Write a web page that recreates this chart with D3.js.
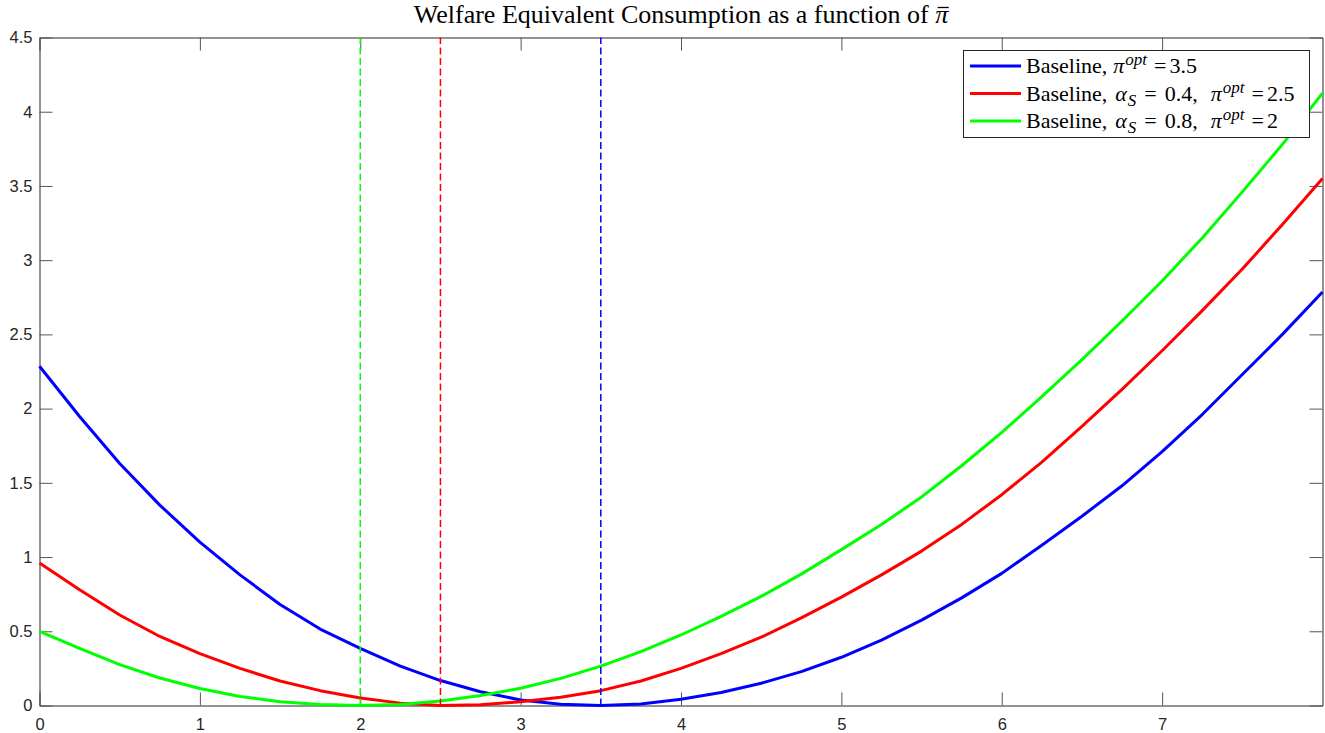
<!DOCTYPE html>
<html>
<head>
<meta charset="utf-8">
<script src="https://cdn.jsdelivr.net/npm/d3@7"></script>
<style>
  body { margin: 0; background: #fff; }
  svg { display: block; }
</style>
</head>
<body>
<svg id="chart" width="1325" height="733"></svg>
<script>
// inflation target grid (pi bar)
const piBar = [0, 0.25, 0.5, 0.75, 1, 1.25, 1.5, 1.75, 2, 2.25, 2.5, 2.75, 3, 3.25, 3.5, 3.75,
               4, 4.25, 4.5, 4.75, 5, 5.25, 5.5, 5.75, 6, 6.25, 6.5, 6.75, 7, 7.25, 7.5, 7.75, 8];

// welfare equivalent consumption
const baseline = [2.285, 1.947, 1.63, 1.35, 1.10, 0.88, 0.68, 0.515, 0.385, 0.265, 0.168, 0.093, 0.037, 0.008, 0.0, 0.01,
                  0.042, 0.088, 0.15, 0.228, 0.325, 0.44, 0.575, 0.725, 0.89, 1.08, 1.275, 1.48, 1.71, 1.96, 2.23, 2.50, 2.785];
const alpha04  = [0.96, 0.78, 0.61, 0.465, 0.35, 0.25, 0.165, 0.10, 0.05, 0.016, 0.0, 0.005, 0.025, 0.055, 0.10, 0.165,
                  0.25, 0.35, 0.46, 0.59, 0.73, 0.88, 1.04, 1.22, 1.42, 1.64, 1.88, 2.13, 2.39, 2.66, 2.94, 3.24, 3.55];
const alpha08  = [0.50, 0.385, 0.275, 0.185, 0.115, 0.06, 0.026, 0.007, 0.0, 0.007, 0.03, 0.068, 0.116, 0.183, 0.265, 0.363,
                  0.475, 0.60, 0.735, 0.885, 1.05, 1.22, 1.405, 1.615, 1.84, 2.08, 2.33, 2.59, 2.86, 3.15, 3.46, 3.78, 4.125];

const piOpt = [3.5, 2.5, 2];
const alphaS = [null, "0.4", "0.8"];
const optLabels = ["3.5", "2.5", "2"];
const seriesColors = ["#0000ff", "#ff0000", "#00ff00"];

const xTicks = [0, 1, 2, 3, 4, 5, 6, 7];
const yTicks = [0, 0.5, 1, 1.5, 2, 2.5, 3, 3.5, 4, 4.5];

const series = [baseline, alpha04, alpha08].map((vals, i) => ({
  color: seriesColors[i],
  opt: piOpt[i],
  points: piBar.map((p, j) => ({ x: p, y: vals[j] }))
}));

const svg = d3.select("#chart");
const axisColor = "#262626";
const box = { left: 39.5, right: 1322.5, top: 37.5, bottom: 705.5 };

const x = d3.scaleLinear().domain([0, 8]).range([box.left, box.right]);
const y = d3.scaleLinear().domain([0, 4.5]).range([box.bottom, box.top]);

// axes (ticks point inwards, mirrored on top/right like a boxed plot)
function styleAxis(g) {
  g.select(".domain").attr("stroke", axisColor);
  g.selectAll(".tick line").attr("stroke", "#555");
  g.selectAll(".tick text")
    .attr("fill", axisColor)
    .attr("font-family", "Liberation Sans, Arial, sans-serif")
    .attr("font-size", 16.5);
}

svg.append("g")
  .attr("transform", `translate(0,${box.bottom})`)
  .call(d3.axisBottom(x).tickValues(xTicks).tickFormat(d3.format("d"))
    .tickSize(-13).tickSizeOuter(0).tickPadding(13))
  .call(styleAxis);

svg.append("g")
  .attr("transform", `translate(0,${box.top})`)
  .call(d3.axisTop(x).tickValues(xTicks).tickFormat("")
    .tickSize(-13).tickSizeOuter(0))
  .call(styleAxis);

svg.append("g")
  .attr("transform", `translate(${box.left},0)`)
  .call(d3.axisLeft(y).tickValues(yTicks).tickFormat(d3.format("~g"))
    .tickSize(-13).tickSizeOuter(0).tickPadding(7))
  .call(styleAxis);

svg.append("g")
  .attr("transform", `translate(${box.right},0)`)
  .call(d3.axisRight(y).tickValues(yTicks).tickFormat("")
    .tickSize(-13).tickSizeOuter(0))
  .call(styleAxis);

// curves
const line = d3.line().x(d => x(d.x)).y(d => y(d.y));

svg.append("g")
  .selectAll("path")
  .data(series)
  .join("path")
  .attr("fill", "none")
  .attr("stroke", d => d.color)
  .attr("stroke-width", 3)
  .attr("stroke-linejoin", "round")
  .attr("d", d => line(d.points));

// optimal inflation markers
svg.append("g")
  .selectAll("line")
  .data(series)
  .join("line")
  .attr("x1", d => x(d.opt))
  .attr("x2", d => x(d.opt))
  .attr("y1", y(0))
  .attr("y2", y(4.5))
  .attr("stroke", d => d.color)
  .attr("stroke-width", 1.5)
  .attr("stroke-dasharray", "7,3.5");

// title
const serif = "Liberation Serif, Times New Roman, serif";
const title = svg.append("text")
  .attr("x", (box.left + box.right) / 2)
  .attr("y", 23)
  .attr("text-anchor", "middle")
  .attr("font-family", serif)
  .attr("font-size", 26)
  .attr("fill", "#000");
title.append("tspan").text("Welfare Equivalent Consumption as a function of ");
title.append("tspan").attr("font-style", "italic").text("\u03C0");
// bar over pi
const nChars = title.text().length;
const piBox = title.node().getExtentOfChar(nChars - 1);
svg.append("line")
  .attr("x1", piBox.x + 2.5).attr("x2", piBox.x + piBox.width + 0.5)
  .attr("y1", 7.5).attr("y2", 7.5)
  .attr("stroke", "#000").attr("stroke-width", 1.3);

// legend
const legend = svg.append("g").attr("transform", "translate(963.5,50.5)");
legend.append("rect")
  .attr("width", 346).attr("height", 87)
  .attr("fill", "#fff").attr("stroke", axisColor).attr("stroke-width", 1);

const rowY = [15.5, 43, 70.5];
const tx = 62.5; // text start inside legend

series.forEach((s, i) => {
  const cy = rowY[i];
  legend.append("line")
    .attr("x1", 6.5).attr("x2", 57.5)
    .attr("y1", cy).attr("y2", cy)
    .attr("stroke", s.color).attr("stroke-width", 3);

  const t = legend.append("text")
    .attr("font-family", serif)
    .attr("font-size", 22)
    .attr("fill", "#000");
  const base = cy + 7;
  let cursor = tx;
  const piece = (str, gap, opts = {}) => {
    const sp = t.append("tspan")
      .attr("x", cursor + gap)
      .attr("y", base + (opts.shift || 0))
      .attr("font-style", opts.italic ? "italic" : null)
      .attr("font-size", opts.small ? 17 : null)
      .text(str);
    cursor += gap + sp.node().getComputedTextLength();
  };

  piece("Baseline,", 0);
  if (alphaS[i] !== null) {
    piece("\u03B1", 8, { italic: true });
    piece("S", 1, { italic: true, small: true, shift: 5 });
    piece("=", 8);
    piece(alphaS[i] + ",", 8);
  }
  piece("\u03C0", alphaS[i] !== null ? 13 : 6, { italic: true });
  piece("opt", 1, { italic: true, small: true, shift: -8 });
  piece("=", 7);
  piece(optLabels[i], 3);
});
</script>
</body>
</html>
